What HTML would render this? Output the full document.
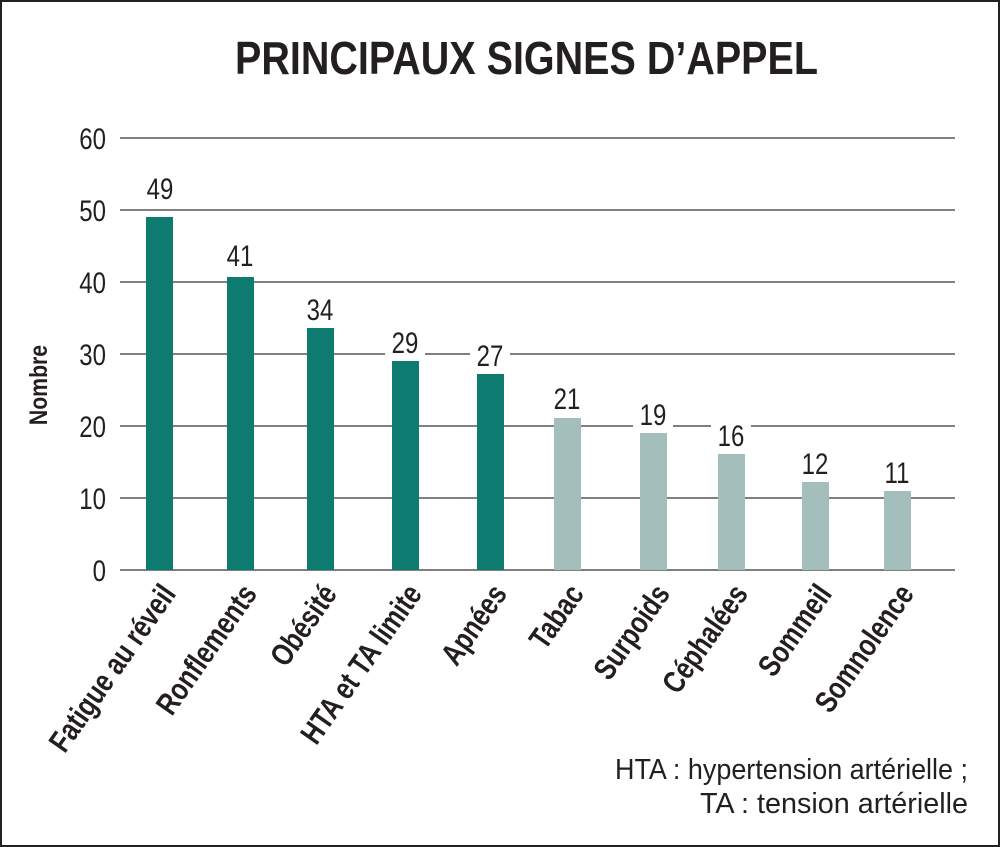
<!DOCTYPE html>
<html><head><meta charset="utf-8"><style>
html,body{margin:0;padding:0;background:#fff}
svg{display:block}
text{font-family:"Liberation Sans Narrow","Liberation Sans",sans-serif}
</style></head><body>
<svg width="1000" height="847" viewBox="0 0 1000 847" xmlns="http://www.w3.org/2000/svg">
<rect x="1" y="1" width="998" height="845" fill="#fff" stroke="#222" stroke-width="2"/>
<text x="235" y="74" textLength="583" lengthAdjust="spacingAndGlyphs" font-size="46" font-weight="bold" fill="#231f20">PRINCIPAUX SIGNES D’APPEL</text>
<g stroke="#333" stroke-width="1.3">
<line x1="120" y1="138" x2="955" y2="138"/>
<line x1="120" y1="210" x2="955" y2="210"/>
<line x1="120" y1="282" x2="955" y2="282"/>
<line x1="120" y1="354" x2="955" y2="354"/>
<line x1="120" y1="426" x2="955" y2="426"/>
<line x1="120" y1="498" x2="955" y2="498"/>
<line x1="120" y1="570" x2="955" y2="570"/>
</g>
<g font-size="30" fill="#231f20" text-anchor="end">
<text transform="translate(106,149) scale(0.8,1)">60</text>
<text transform="translate(106,221) scale(0.8,1)">50</text>
<text transform="translate(106,293) scale(0.8,1)">40</text>
<text transform="translate(106,365) scale(0.8,1)">30</text>
<text transform="translate(106,437) scale(0.8,1)">20</text>
<text transform="translate(106,509) scale(0.8,1)">10</text>
<text transform="translate(106,581) scale(0.8,1)">0</text>
</g>
<text transform="translate(47,385) rotate(-90) scale(0.85,1)" text-anchor="middle" font-size="25" font-weight="bold" fill="#231f20">Nombre</text>
<g>
<rect x="146" y="217" width="27" height="353" fill="#0e7b70"/>
<rect x="227" y="277" width="27" height="293" fill="#0e7b70"/>
<rect x="307" y="328" width="27" height="242" fill="#0e7b70"/>
<rect x="392" y="361" width="27" height="209" fill="#0e7b70"/>
<rect x="477" y="374" width="27" height="196" fill="#0e7b70"/>
<rect x="554" y="418" width="27" height="152" fill="#a3bebb"/>
<rect x="640" y="433" width="27" height="137" fill="#a3bebb"/>
<rect x="718" y="454" width="27" height="116" fill="#a3bebb"/>
<rect x="802" y="482" width="27" height="88" fill="#a3bebb"/>
<rect x="884" y="491" width="27" height="79" fill="#a3bebb"/>
</g>
<g font-size="30" fill="#231f20" text-anchor="middle">
<rect x="140" y="172" width="40" height="34" fill="#fff"/><text transform="translate(160,199) scale(0.8,1)">49</text>
<rect x="220" y="234" width="40" height="34" fill="#fff"/><text transform="translate(240,266) scale(0.8,1)">41</text>
<rect x="300" y="292" width="40" height="34" fill="#fff"/><text transform="translate(320,320) scale(0.8,1)">34</text>
<rect x="385" y="324" width="40" height="34" fill="#fff"/><text transform="translate(405,353) scale(0.8,1)">29</text>
<rect x="470" y="338" width="40" height="34" fill="#fff"/><text transform="translate(490,366) scale(0.8,1)">27</text>
<rect x="547" y="380" width="40" height="34" fill="#fff"/><text transform="translate(567,409) scale(0.8,1)">21</text>
<rect x="633" y="396" width="40" height="34" fill="#fff"/><text transform="translate(653,425) scale(0.8,1)">19</text>
<rect x="711" y="418" width="40" height="34" fill="#fff"/><text transform="translate(731,446) scale(0.8,1)">16</text>
<rect x="795" y="445" width="40" height="34" fill="#fff"/><text transform="translate(815,474) scale(0.8,1)">12</text>
<rect x="877" y="455" width="40" height="34" fill="#fff"/><text transform="translate(897,483) scale(0.8,1)">11</text>
</g>
<g font-size="31" font-weight="bold" fill="#231f20" text-anchor="end">
<text transform="translate(177,594) rotate(-55) scale(0.8,1)">Fatigue au réveil</text>
<text transform="translate(258,594) rotate(-55) scale(0.8,1)">Ronflements</text>
<text transform="translate(338,594) rotate(-55) scale(0.8,1)">Obésité</text>
<text transform="translate(423,594) rotate(-55) scale(0.8,1)">HTA et TA limite</text>
<text transform="translate(508,594) rotate(-55) scale(0.8,1)">Apnées</text>
<text transform="translate(585,594) rotate(-55) scale(0.8,1)">Tabac</text>
<text transform="translate(671,594) rotate(-55) scale(0.8,1)">Surpoids</text>
<text transform="translate(749,594) rotate(-55) scale(0.8,1)">Céphalées</text>
<text transform="translate(833,594) rotate(-55) scale(0.8,1)">Sommeil</text>
<text transform="translate(915,594) rotate(-55) scale(0.8,1)">Somnolence</text>
</g>
<g font-size="29" fill="#231f20">
<text x="615" y="779" textLength="353" lengthAdjust="spacingAndGlyphs">HTA : hypertension artérielle ;</text>
<text x="700" y="813" textLength="268" lengthAdjust="spacingAndGlyphs">TA : tension artérielle</text>
</g>
</svg>
</body></html>
